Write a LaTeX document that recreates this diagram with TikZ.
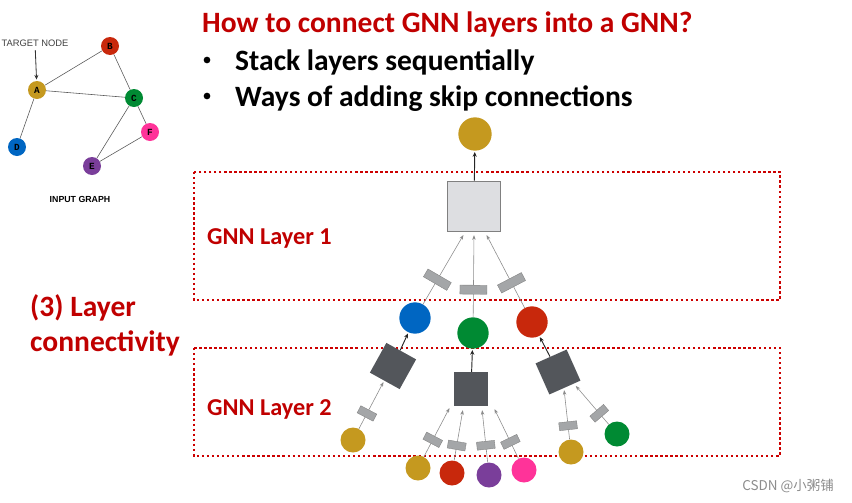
\documentclass[tikz,border=0pt]{standalone}
\usepackage{fontspec}
\setmainfont{Carlito}
\newfontfamily\arial{Liberation Sans}
\newfontfamily\cour{Liberation Mono}
\newfontfamily\cjk{Noto Sans CJK SC}
\usetikzlibrary{arrows.meta}
\definecolor{gold}{HTML}{C5991F}
\definecolor{nred}{HTML}{C8280C}
\definecolor{ngreen}{HTML}{008A33}
\definecolor{nblue}{HTML}{0066C2}
\definecolor{npurple}{HTML}{7A3E9A}
\definecolor{npink}{HTML}{FF3399}
\definecolor{aggdark}{HTML}{53565B}
\definecolor{agglight}{HTML}{DDDEE1}
\definecolor{msgfill}{HTML}{A4A6A8}
\definecolor{txtred}{HTML}{C00000}
\definecolor{boxred}{HTML}{CC0000}
\tikzset{
  layerbox/.style={draw=boxred,line width=2pt,dash pattern=on 2pt off 2.3pt},
  emb/.style={circle,minimum size=0.94cm,inner sep=0pt},
  leaf/.style={circle,minimum size=0.75cm,inner sep=0pt},
  gnode/.style={circle,minimum size=0.54cm,inner sep=0pt,font=\cour\bfseries\fontsize{8}{8}\selectfont},
  aggbox/.style={fill=aggdark,minimum size=1.02cm,inner sep=0pt},
  msgA/.style={sloped,fill=msgfill,draw=gray,line width=0.3pt,minimum width=0.27cm,minimum height=0.81cm,inner sep=0pt},
  msgB/.style={sloped,fill=msgfill,draw=gray,line width=0.3pt,minimum width=0.24cm,minimum height=0.54cm,inner sep=0pt},
  edge/.style={draw=gray!90,line width=0.5pt,-{Stealth[length=4pt,width=3pt]},shorten >=1pt},
  upedge/.style={draw=black!85,line width=0.8pt,-{Stealth[length=4pt,width=3.5pt]},shorten >=1pt},
  redtext/.style={text=txtred,font=\bfseries\fontsize{25.2}{26}\selectfont,anchor=base west,inner sep=0pt},
  blacktext/.style={text=black,font=\bfseries\fontsize{25.2}{26}\selectfont,anchor=base west,inner sep=0pt},
  bullet/.style={circle,fill=black,minimum size=0.2cm,inner sep=0pt},
  layertext/.style={text=txtred,font=\bfseries\fontsize{20.7}{22}\selectfont,anchor=base west,inner sep=0pt}
}
\begin{document}
\begin{tikzpicture}[x=0.03cm,y=-0.03cm]
  \useasboundingbox (0,0) rectangle (852,502);
  % input graph
  \node[gnode,fill=gold] (gA) at (37,90) {A};
  \node[gnode,fill=nred] (gB) at (110,46) {B};
  \node[gnode,fill=ngreen] (gC) at (134,98) {C};
  \node[gnode,fill=nblue] (gD) at (17,147) {D};
  \node[gnode,fill=npurple] (gE) at (92,166) {E};
  \node[gnode,fill=npink] (gF) at (150,132) {F};
  \foreach \a/\b in {gA/gB,gA/gC,gB/gC,gA/gD,gC/gE,gC/gF,gE/gF}
    \draw[black!65,line width=0.5pt] (\a) -- (\b);
  \node[font=\arial\fontsize{8}{8}\selectfont,text=black!75,inner sep=1pt] (tgt) at (35,43) {TARGET NODE};
  \draw[black!80,line width=0.7pt,-{Stealth[length=4pt,width=3.5pt]},shorten <=2pt,shorten >=1pt] (tgt) -- (gA);
  \node[font=\arial\bfseries\fontsize{7.5}{7.5}\selectfont] (inlabel) at (80,199) {INPUT GRAPH};
  % titles
  \node[redtext] (title) at (202,32) {How to connect GNN layers into a GNN?};
  \node[bullet] (b1) at (207,60) {};
  \node[blacktext] (t1) at (235,70) {Stack layers sequentially};
  \node[bullet] (b2) at (207,96) {};
  \node[blacktext] (t2) at (235,106) {Ways of adding skip connections};
  \node[redtext] (c1) at (30,316) {(3) Layer};
  \node[redtext] (c2) at (30,351) {connectivity};
  % layer boxes
  \draw[layerbox] (194,172) rectangle (780,300);
  \draw[layerbox] (194,348) rectangle (780,456);
  \node[layertext] (l1) at (207,244) {GNN Layer 1};
  \node[layertext] (l2) at (207,415) {GNN Layer 2};
  % layer 1
  \node[emb,fill=gold,minimum height=1.0cm] (out) at (475,134) {};
  \node[fill=agglight,draw=gray,line width=0.5pt,minimum width=1.6cm,minimum height=1.5cm,inner sep=0pt] (agg1) at (474,206) {};
  \node[emb,fill=nblue] (hB) at (415,318) {};
  \node[emb,fill=ngreen] (hC) at (473,333) {};
  \node[emb,fill=nred] (hD) at (532,322) {};
  \coordinate (a11) at (464,234);
  \coordinate (a12) at (474,234);
  \coordinate (a13) at (486,234);
  \draw[upedge] (agg1) -- (out);
  \draw[edge] (hB) -- node[msgA,pos=.35]{} (a11);
  \draw[edge] (hC) -- node[msgA,pos=.33]{} (a12);
  \draw[edge] (hD) -- node[msgA,pos=.34]{} (a13);
  % layer 2
  \node[aggbox,rotate=-29] (agg2) at (393,366) {};
  \node[aggbox] (agg3) at (471,389) {};
  \node[aggbox,rotate=24] (agg4) at (558,372) {};
  \draw[upedge] (agg2) -- (hB);
  \draw[upedge] (agg3) -- (hC);
  \draw[upedge] (agg4) -- (hD);
  \node[leaf,fill=gold] (x1) at (353,440) {};
  \node[leaf,fill=gold] (x2) at (418,468) {};
  \node[leaf,fill=nred] (x3) at (452,473) {};
  \node[leaf,fill=npurple] (x4) at (489,475) {};
  \node[leaf,fill=npink] (x5) at (524,470) {};
  \node[leaf,fill=gold] (x6) at (571,452) {};
  \node[leaf,fill=ngreen] (x7) at (617,434) {};
  \coordinate (a21) at (384,381);
  \coordinate (a31) at (450,407);
  \coordinate (a32) at (463,409);
  \coordinate (a33) at (482,409);
  \coordinate (a34) at (494,408);
  \coordinate (a41) at (564,389);
  \coordinate (a42) at (575,385);
  \draw[edge] (x1) -- node[msgB,pos=.32]{} (a21);
  \draw[edge] (x2) -- node[msgB,pos=.34]{} (a31);
  \draw[edge] (x3) -- node[msgB,pos=.29]{} (a32);
  \draw[edge] (x4) -- node[msgB,pos=.32]{} (a33);
  \draw[edge] (x5) -- node[msgB,pos=.33]{} (a34);
  \draw[edge] (x6) -- node[msgB,pos=.27]{} (a41);
  \draw[edge] (x7) -- node[msgB,pos=.28]{} (a42);
  % watermark
  \node[font=\cjk\fontsize{11.5}{12}\selectfont,text=black!45,anchor=east] (wm) at (838,486) {CSDN @小粥铺};
\end{tikzpicture}
\end{document}
